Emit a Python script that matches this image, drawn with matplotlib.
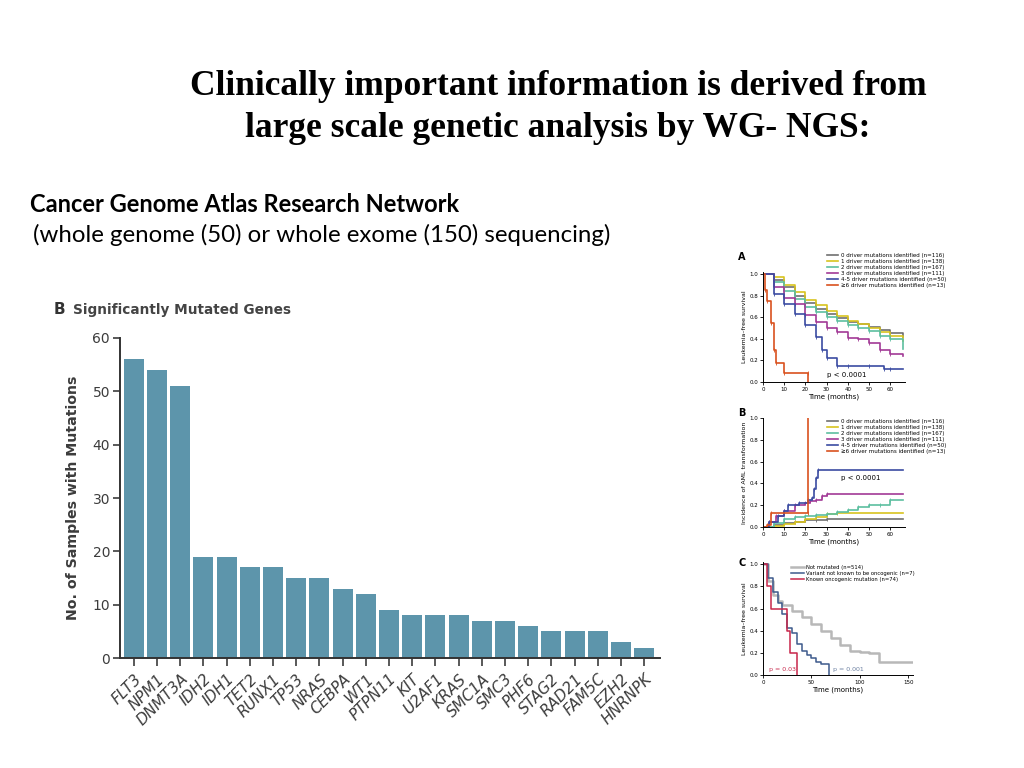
import numpy as np
import matplotlib.pyplot as plt

# ---------------- data ----------------
genes = ['FLT3', 'NPM1', 'DNMT3A', 'IDH2', 'IDH1', 'TET2', 'RUNX1', 'TP53', 'NRAS',
         'CEBPA', 'WT1', 'PTPN11', 'KIT', 'U2AF1', 'KRAS', 'SMC1A', 'SMC3', 'PHF6',
         'STAG2', 'RAD21', 'FAM5C', 'EZH2', 'HNRNPK']
n_mutated = [56, 54, 51, 19, 19, 17, 17, 15, 15, 13, 12, 9, 8, 8, 8, 7, 7, 6, 5, 5, 5, 3, 2]

driver_labels = ['0 driver mutations identified (n=116)',
                 '1 driver mutations identified (n=138)',
                 '2 driver mutations identified (n=167)',
                 '3 driver mutations identified (n=111)',
                 '4-5 driver mutations identified (n=50)',
                 '\u22656 driver mutations identified (n=13)']
driver_colors = ['#6f6f6f', '#d8c31f', '#5cbfa0', '#a23a96', '#3b4ca2', '#d9521f']

# Panel A: leukemia-free survival
a_times = [
    [0, 5, 10, 15, 20, 25, 30, 35, 40, 45, 50, 55, 60, 66],
    [0, 5, 10, 15, 20, 25, 30, 35, 40, 45, 50, 55, 60, 66],
    [0, 5, 10, 15, 20, 25, 30, 35, 40, 45, 50, 55, 60, 66],
    [0, 5, 10, 15, 20, 25, 30, 35, 40, 45, 50, 55, 60, 66],
    [0, 5, 10, 15, 20, 25, 28, 30, 35, 40, 50, 57, 60, 66],
    [0, 1, 2, 4, 5, 6, 10, 21, 21.05],
]
a_surv = [
    [1.0, 0.95, 0.88, 0.80, 0.73, 0.68, 0.63, 0.59, 0.56, 0.54, 0.51, 0.48, 0.45, 0.42],
    [1.0, 0.97, 0.90, 0.83, 0.76, 0.71, 0.66, 0.61, 0.57, 0.54, 0.50, 0.46, 0.43, 0.38],
    [1.0, 0.93, 0.84, 0.77, 0.70, 0.65, 0.60, 0.57, 0.53, 0.50, 0.47, 0.43, 0.40, 0.31],
    [1.0, 0.88, 0.78, 0.72, 0.62, 0.56, 0.50, 0.46, 0.41, 0.40, 0.36, 0.30, 0.26, 0.24],
    [1.0, 0.82, 0.72, 0.63, 0.53, 0.42, 0.30, 0.22, 0.15, 0.15, 0.15, 0.12, 0.12, 0.12],
    [1.0, 0.85, 0.75, 0.55, 0.30, 0.18, 0.08, 0.08, 0.0],
]

# Panel B: incidence of AML transformation
b_times = [
    [0, 5, 10, 15, 20, 25, 30, 66],
    [0, 5, 10, 15, 20, 25, 30, 35, 66],
    [0, 5, 10, 15, 20, 25, 30, 35, 40, 45, 50, 55, 60, 66],
    [0, 3, 6, 10, 15, 20, 22, 25, 28, 30, 66],
    [0, 3, 7, 10, 12, 17, 21, 23, 24, 25, 26, 66],
    [0, 2, 4, 21, 21.05],
]
b_inc = [
    [0.0, 0.02, 0.04, 0.05, 0.06, 0.06, 0.07, 0.07],
    [0.0, 0.01, 0.03, 0.05, 0.07, 0.09, 0.12, 0.13, 0.13],
    [0.0, 0.04, 0.07, 0.09, 0.10, 0.11, 0.12, 0.14, 0.16, 0.18, 0.20, 0.20, 0.25, 0.25],
    [0.0, 0.05, 0.10, 0.15, 0.20, 0.22, 0.24, 0.25, 0.28, 0.30, 0.30],
    [0.0, 0.05, 0.10, 0.15, 0.20, 0.22, 0.25, 0.27, 0.35, 0.45, 0.52, 0.52],
    [0.0, 0.02, 0.13, 0.13, 1.0],
]

# Panel C: oncogenic status
c_labels = ['Not mutated (n=514)', 'Variant not known to be oncogenic (n=7)',
            'Known oncogenic mutation (n=74)']
c_colors = ['#b8b8b8', '#3d5a8c', '#c8264a']
c_times = [
    [0, 5, 10, 15, 20, 30, 40, 50, 60, 70, 80, 90, 100, 110, 120, 155],
    [0, 5, 10, 15, 20, 25, 30, 35, 40, 45, 50, 55, 60, 68, 68.1],
    [0, 4, 8, 25, 28, 35, 35.1],
]
c_surv = [
    [1.0, 0.85, 0.72, 0.67, 0.63, 0.58, 0.52, 0.46, 0.40, 0.33, 0.27, 0.22, 0.21, 0.20, 0.12, 0.12],
    [1.0, 0.88, 0.75, 0.65, 0.55, 0.42, 0.38, 0.28, 0.22, 0.18, 0.15, 0.12, 0.10, 0.08, 0.0],
    [1.0, 0.80, 0.60, 0.40, 0.20, 0.0, 0.0],
]

# ---------------- figure ----------------
fig = plt.figure(figsize=(10.24, 7.68), dpi=100)

fig.text(0.545, 0.860, 'Clinically important information is derived from\nlarge scale genetic analysis by WG- NGS:',
         ha='center', va='center', family='Liberation Serif', fontweight='bold',
         fontsize=25.5, linespacing=1.33)
fig.text(0.029, 0.734, 'Cancer Genome Atlas Research Network', family='Lato',
         fontweight='bold', fontsize=17, va='center')
fig.text(0.032, 0.694, '(whole genome (50) or whole exome (150) sequencing)', family='Lato',
         fontsize=17.3, va='center')

# main bar chart
bar_color = '#5d95ab'
txt_grey = '#3c3c3c'
ax = fig.add_axes([0.117, 0.143, 0.528, 0.417])
x = np.arange(len(genes))
ax.bar(x, n_mutated, width=0.86, color=bar_color)
ax.set_xlim(-0.6, len(genes) - 0.3)
ax.set_ylim(0, 60)
ax.set_yticks(range(0, 61, 10))
ax.set_xticks(x)
ax.set_xticklabels(genes, rotation=45, ha='right', rotation_mode='anchor',
                   fontstyle='italic', fontsize=11, color=txt_grey)
ax.tick_params(axis='y', labelsize=10, colors=txt_grey, length=5, width=1.2, pad=2)
ax.tick_params(axis='x', length=6, width=1.2, colors=txt_grey)
for s in ['top', 'right']:
    ax.spines[s].set_visible(False)
for s in ['left', 'bottom']:
    ax.spines[s].set_linewidth(1.4)
    ax.spines[s].set_color('#333333')
ax.set_ylabel('No. of Samples with Mutations', fontsize=10.2, fontweight='bold',
              color=txt_grey, labelpad=9)
fig.text(0.052, 0.597, 'B', fontsize=11, fontweight='bold', color='#333333', va='center')
fig.text(0.071, 0.597, 'Significantly Mutated Genes', fontsize=9.8, fontweight='bold',
         color='#444444', va='center')


def style_small(a, xlabel, ylabel):
    a.tick_params(labelsize=4, length=2, width=0.6, pad=1.5)
    for s in ['top', 'right']:
        a.spines[s].set_visible(False)
    for s in ['left', 'bottom']:
        a.spines[s].set_linewidth(0.7)
    a.set_xlabel(xlabel, fontsize=5, labelpad=1.5)
    a.set_ylabel(ylabel, fontsize=4.5, labelpad=2)


# Panel A
axA = fig.add_axes([763 / 1024, 1 - 382 / 768, 142 / 1024, 110 / 768])
for t, v, c, lab in zip(a_times, a_surv, driver_colors, driver_labels):
    axA.step(t, v, where='post', color=c, lw=1.2, label=lab)
    axA.plot(t[1:-1], v[1:-1], '|', color=c, ms=2.5, mew=0.6)
axA.set_xlim(0, 67)
axA.set_ylim(0, 1.02)
axA.set_xticks(range(0, 61, 10))
axA.set_yticks(np.arange(0, 1.01, 0.2))
style_small(axA, 'Time (months)', 'Leukemia\u2013free survival')
axA.text(30, 0.05, 'p < 0.0001', fontsize=5)
axA.legend(loc='upper left', bbox_to_anchor=(0.43, 1.2), fontsize=4, frameon=False,
           handlelength=2.0, handletextpad=0.5, labelspacing=0.2, borderpad=0)
fig.text(0.721, 0.661, 'A', fontsize=7, fontweight='bold')

# Panel B
axB = fig.add_axes([763 / 1024, 1 - 527 / 768, 142 / 1024, 109 / 768])
for t, v, c, lab in zip(b_times, b_inc, driver_colors, driver_labels):
    axB.step(t, v, where='post', color=c, lw=1.2, label=lab)
    axB.plot(t[1:-1], v[1:-1], '|', color=c, ms=2.5, mew=0.6)
axB.set_xlim(0, 67)
axB.set_ylim(0, 1.0)
axB.set_xticks(range(0, 61, 10))
axB.set_yticks(np.arange(0, 1.01, 0.2))
style_small(axB, 'Time (months)', 'Incidence of AML transformation')
axB.text(37, 0.43, 'p < 0.0001', fontsize=5)
axB.legend(loc='upper left', bbox_to_anchor=(0.43, 1.02), fontsize=4, frameon=False,
           handlelength=2.0, handletextpad=0.5, labelspacing=0.2, borderpad=0)
fig.text(0.721, 0.458, 'B', fontsize=7, fontweight='bold')

# Panel C
axC = fig.add_axes([763 / 1024, 1 - 675 / 768, 150 / 1024, 113 / 768])
for t, v, c, lab in zip(c_times, c_surv, c_colors, c_labels):
    axC.step(t, v, where='post', color=c, lw=1.8 if c == c_colors[0] else 1.1, label=lab)
axC.set_xlim(0, 155)
axC.set_ylim(0, 1.02)
axC.set_xticks([0, 50, 100, 150])
axC.set_yticks(np.arange(0, 1.01, 0.2))
style_small(axC, 'Time (months)', 'Leukemia\u2013free survival')
axC.text(6, 0.04, 'p = 0.03', fontsize=4.5, color=c_colors[2])
axC.text(72, 0.04, 'p = 0.001', fontsize=4.5, color='#6a7fa0')
axC.legend(loc='upper left', bbox_to_anchor=(0.17, 1.0), fontsize=3.8, frameon=False,
           handlelength=2.4, handletextpad=0.5, labelspacing=0.2, borderpad=0)
fig.text(0.721, 0.263, 'C', fontsize=7, fontweight='bold')

fig.savefig('out.png', dpi=100)
